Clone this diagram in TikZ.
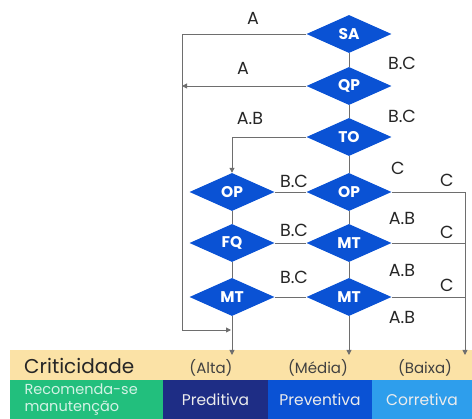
\documentclass[tikz,border=0pt]{standalone}
\usepackage{fontspec}
\setmainfont{Poppins}
\usetikzlibrary{shapes.geometric,arrows.meta}
\definecolor{dblue}{HTML}{0A52D4}
\definecolor{sand}{HTML}{FBE2A6}
\definecolor{mgreen}{HTML}{22BF7D}
\definecolor{navy}{HTML}{1E2D85}
\definecolor{sky}{HTML}{2E9EEC}
\definecolor{wirec}{HTML}{6E6E6E}

\begin{document}
\begin{tikzpicture}[x=1pt,y=-1pt,
    dec/.style={diamond,fill=dblue,text=white,font=\bfseries\fontsize{15.5}{15.5}\selectfont,
      minimum width=85pt,minimum height=38pt,inner sep=0pt},
    lbl/.style={font=\fontsize{17.5}{17.5}\selectfont,text=black!85},
    crit/.style={font=\fontsize{15}{15}\selectfont,text=black!75},
    mbox/.style={minimum height=39pt,inner sep=0pt,text=white!85!gray,font=\fontsize{15.5}{18}\selectfont},
    wire/.style={draw=wirec,line width=0.9pt},
    tip/.style={wire,-{Triangle[length=5pt,width=5pt]}}]
\useasboundingbox (0,0) rectangle (472,419);

% bottom bands
\fill[sand] (10,350) rectangle (472,380);
\node[font=\fontsize{20}{20}\selectfont,text=black!85,anchor=west,inner sep=0pt] (critic) at (24,366) {Criticidade};
\node[crit] (alta) at (211,368) {(Alta)};
\node[crit] (media) at (318,368) {(Média)};
\node[crit] (baixa) at (425,368) {(Baixa)};
\node[mbox,fill=mgreen,minimum width=153pt,text width=124pt,align=left,text=white!80!mgreen,
  font=\fontsize{14.5}{17.5}\selectfont] (recom) at (86.5,399.5) {Recomenda-se\\manutenção};
\node[mbox,fill=navy,minimum width=105pt] (predit) at (215.5,399.5) {Preditiva};
\node[mbox,fill=dblue,minimum width=104pt] (prevent) at (320,399.5) {Preventiva};
\node[mbox,fill=sky,minimum width=100pt] (corret) at (422,399.5) {Corretiva};

% decisions
\node[dec] (sa) at (349,34) {SA};
\node[dec] (qp) at (349,86) {QP};
\node[dec] (to) at (349,137) {TO};
\node[dec] (opr) at (349,192) {OP};
\node[dec] (opl) at (232,192) {OP};
\node[dec] (fq) at (232,243) {FQ};
\node[dec] (mtr) at (349,243) {MT};
\node[dec] (mtl) at (232,297) {MT};
\node[dec] (mtb) at (349,297) {MT};

\coordinate (rail) at (182,330);
\coordinate (join) at (231,330);
\coordinate (ealta) at (232,355);
\coordinate (emedia) at (349,355);
\coordinate (ebaixa) at (465,355);

% connectors
\draw[wire] (sa.south) -- (qp.north);
\draw[wire] (qp.south) -- (to.north);
\draw[wire] (to.south) -- (opr.north);
\draw[wire] (opr.south) -- (mtr.north);
\draw[wire] (mtr.south) -- (mtb.north);
\draw[wire] (opl.south) -- (fq.north);
\draw[wire] (fq.south) -- (mtl.north);
\draw[wire] (opl.east) -- (opr.west);
\draw[wire] (fq.east) -- (mtr.west);
\draw[wire] (mtl.east) -- (mtb.west);
\draw[tip] (sa.west) -| (rail) -- (join);
\draw[tip] (qp.west) -- (qp.west -| rail);
\draw[tip] (to.west) -| (opl.north);
\draw[tip] (mtl.south) -- (ealta);
\draw[tip] (mtb.south) -- (emedia);
\draw[tip] (opr.east) -| (ebaixa);
\draw[wire] (mtr.east) -- (mtr.east -| ebaixa);
\draw[wire] (mtb.east) -- (mtb.east -| ebaixa);

% branch labels
\node[lbl] (l1) at (253,18) {A};
\node[lbl] (l2) at (243,68) {A};
\node[lbl] (l3) at (402,63) {B.C};
\node[lbl] (l4) at (402,116) {B.C};
\node[lbl] (l5) at (250,118) {A.B};
\node[lbl] (l6) at (398,168) {C};
\node[lbl] (l7) at (447,180) {C};
\node[lbl] (l8) at (294,181) {B.C};
\node[lbl] (l9) at (402,218) {A.B};
\node[lbl] (l10) at (447,232) {C};
\node[lbl] (l11) at (294,230) {B.C};
\node[lbl] (l12) at (402,270) {A.B};
\node[lbl] (l13) at (294,277) {B.C};
\node[lbl] (l14) at (447,285) {C};
\node[lbl] (l15) at (402,317) {A.B};
\end{tikzpicture}
\end{document}
